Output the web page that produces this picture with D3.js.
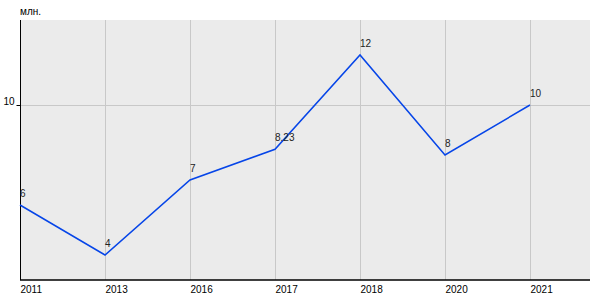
<!DOCTYPE html>
<html>
<head>
<meta charset="utf-8">
<script src="https://cdn.jsdelivr.net/npm/d3@7"></script>
<style>
  body { margin: 0; background: #fff; }
  text { font-family: "Liberation Sans", Arial, sans-serif; }
</style>
</head>
<body>
<div id="chart"></div>
<script>
// data
const years = ["2011", "2013", "2016", "2017", "2018", "2020", "2021"];
const values = [6, 4, 7, 8.23, 12, 8, 10];
const yTicks = [10];
const unitLabel = "млн.";

const width = 600, height = 300;
const plot = {left: 20, top: 20, right: 590, bottom: 280};

const svg = d3.select("#chart")
  .append("svg")
  .attr("width", width)
  .attr("height", height);

// scales
const x = d3.scalePoint()
  .domain(years)
  .range([plot.left, plot.left + 85 * (years.length - 1)]);

const y = d3.scaleLinear()
  .domain([3, 13.4])
  .range([plot.bottom, plot.top]);

// background
svg.append("rect")
  .attr("x", plot.left)
  .attr("y", plot.top)
  .attr("width", plot.right - plot.left)
  .attr("height", plot.bottom - plot.top)
  .attr("fill", "#ebebeb");

// grid
svg.append("g")
  .selectAll("line")
  .data(years)
  .join("line")
  .attr("x1", d => x(d) + 0.5)
  .attr("x2", d => x(d) + 0.5)
  .attr("y1", plot.top)
  .attr("y2", plot.bottom)
  .attr("stroke", "#c8c8c8");

svg.append("g")
  .selectAll("line")
  .data(yTicks)
  .join("line")
  .attr("x1", plot.left)
  .attr("x2", plot.right)
  .attr("y1", d => Math.round(y(d)) + 0.5)
  .attr("y2", d => Math.round(y(d)) + 0.5)
  .attr("stroke", "#c8c8c8");

// y axis
const yAxis = svg.append("g")
  .attr("transform", `translate(${plot.left + 0.5},0)`)
  .call(d3.axisLeft(y).tickValues(yTicks).tickSize(4).tickSizeOuter(0));
yAxis.select(".domain").remove();
yAxis.append("line")
  .attr("y1", plot.top).attr("y2", plot.bottom)
  .attr("stroke", "#000");
yAxis.selectAll(".tick line").attr("stroke", "#000");
yAxis.selectAll(".tick text")
  .attr("x", -6)
  .attr("dy", "-0.1em")
  .style("font-size", "10px")
  .attr("fill", "#000");

// x axis
const xAxis = svg.append("g")
  .attr("transform", `translate(0,${plot.bottom})`)
  .call(d3.axisBottom(x).tickSize(0).tickPadding(6));
xAxis.select(".domain").remove();
xAxis.append("line")
  .attr("x1", plot.left).attr("x2", plot.right)
  .attr("stroke", "#000")
  .attr("stroke-width", 1.5);
xAxis.selectAll(".tick text")
  .attr("text-anchor", "start")
  .style("font-size", "10px")
  .attr("fill", "#000");

// unit label
svg.append("text")
  .attr("x", plot.left)
  .attr("y", 15)
  .style("font-size", "10px")
  .text(unitLabel);

// line
const line = d3.line()
  .x((d, i) => x(years[i]))
  .y(d => y(d));

svg.append("path")
  .datum(values)
  .attr("d", line)
  .attr("fill", "none")
  .attr("stroke", "#0645e8")
  .attr("stroke-width", 1.5);

// value labels
svg.append("g")
  .selectAll("text")
  .data(values)
  .join("text")
  .attr("x", (d, i) => x(years[i]))
  .attr("y", d => y(d) - 8)
  .style("font-size", "10px")
  .attr("fill", "#222")
  .text(d => d);
</script>
</body>
</html>
